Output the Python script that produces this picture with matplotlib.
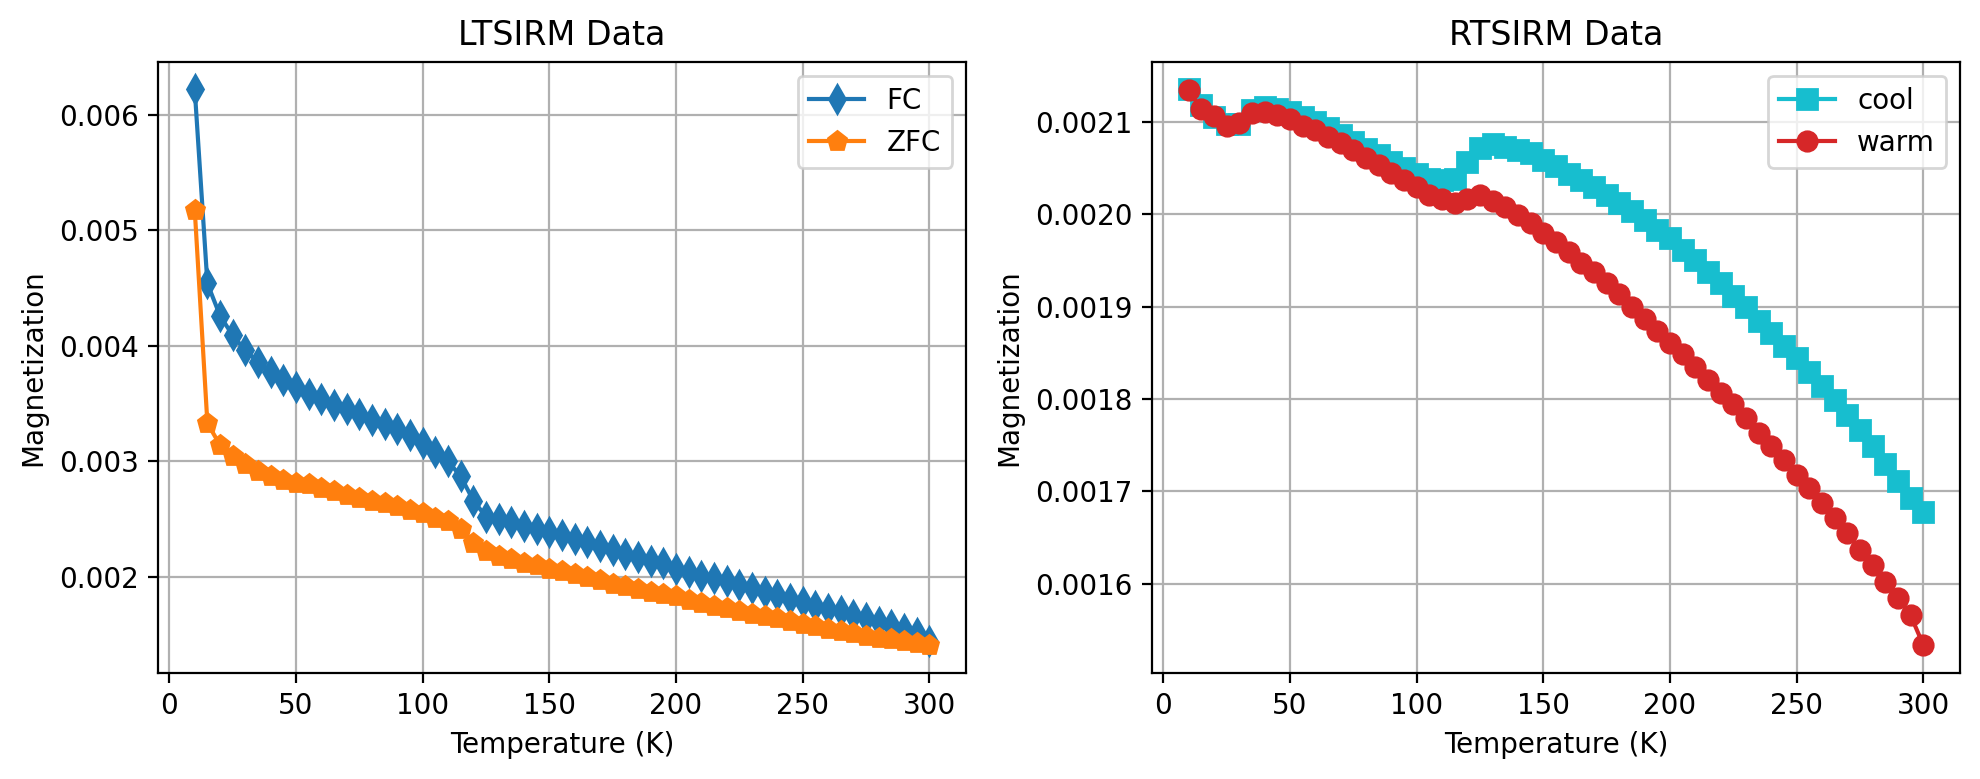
"""LTSIRM and RTSIRM magnetization plots"""

import matplotlib
matplotlib.use("Agg")
import matplotlib.pyplot as plt


temperature = [10, 15, 20, 25, 30, 35, 40, 45, 50, 55, 60, 65, 70, 75, 80,
               85, 90, 95, 100, 105, 110, 115, 120, 125, 130, 135, 140, 145,
               150, 155, 160, 165, 170, 175, 180, 185, 190, 195, 200, 205,
               210, 215, 220, 225, 230, 235, 240, 245, 250, 255, 260, 265,
               270, 275, 280, 285, 290, 295, 300]

fc = [0.00622, 0.00454, 0.00426, 0.00409, 0.00396, 0.00386, 0.00377, 0.00370,
      0.00364, 0.00358, 0.00354, 0.00349, 0.00345, 0.00341, 0.00336, 0.00332,
      0.00328, 0.00323, 0.00316, 0.00308, 0.00300, 0.00287, 0.00266, 0.00252,
      0.00250, 0.00247, 0.00244, 0.00241, 0.00239, 0.00236, 0.00233, 0.00230,
      0.00227, 0.00223, 0.00220, 0.00217, 0.00214, 0.00212, 0.00207, 0.00204,
      0.00201, 0.00199, 0.00196, 0.00193, 0.00190, 0.00187, 0.00184, 0.00181,
      0.00178, 0.00175, 0.00172, 0.00170, 0.00167, 0.00164, 0.00161, 0.00158,
      0.00155, 0.00151, 0.00144]

zfc = [0.00518, 0.00333, 0.00314, 0.00305, 0.00298, 0.00292, 0.00287, 0.00284,
       0.00281, 0.00280, 0.00277, 0.00274, 0.00271, 0.00268, 0.00266, 0.00264,
       0.00261, 0.00258, 0.00255, 0.00251, 0.00248, 0.00241, 0.00229, 0.00222,
       0.00218, 0.00215, 0.00212, 0.00210, 0.00207, 0.00205, 0.00202, 0.00200,
       0.00197, 0.00194, 0.00192, 0.00189, 0.00187, 0.00185, 0.00183, 0.00180,
       0.00177, 0.00175, 0.00173, 0.00170, 0.00168, 0.00166, 0.00164, 0.00162,
       0.00159, 0.00157, 0.00155, 0.00153, 0.00151, 0.00149, 0.00147, 0.00146,
       0.00144, 0.00143, 0.00141]

cool = [0.002135, 0.002118, 0.002105, 0.002098, 0.002098, 0.002113, 0.002116,
        0.002114, 0.002111, 0.002105, 0.002100, 0.002093, 0.002086, 0.002078,
        0.002071, 0.002064, 0.002057, 0.002050, 0.002043, 0.002038, 0.002037,
        0.002038, 0.002057, 0.002072, 0.002076, 0.002073, 0.002069, 0.002066,
        0.002059, 0.002052, 0.002044, 0.002037, 0.002030, 0.002021, 0.002012,
        0.002004, 0.001994, 0.001983, 0.001974, 0.001961, 0.001951, 0.001938,
        0.001926, 0.001912, 0.001900, 0.001884, 0.001872, 0.001857, 0.001844,
        0.001829, 0.001814, 0.001799, 0.001783, 0.001767, 0.001749, 0.001730,
        0.001711, 0.001693, 0.001678]

warm = [0.002134, 0.002114, 0.002106, 0.002096, 0.002099, 0.002110, 0.002111,
        0.002107, 0.002103, 0.002096, 0.002091, 0.002084, 0.002077, 0.002069,
        0.002061, 0.002053, 0.002045, 0.002037, 0.002029, 0.002021, 0.002017,
        0.002012, 0.002017, 0.002021, 0.002014, 0.002008, 0.001999, 0.001990,
        0.001980, 0.001970, 0.001959, 0.001947, 0.001937, 0.001926, 0.001914,
        0.001900, 0.001887, 0.001874, 0.001861, 0.001849, 0.001835, 0.001821,
        0.001807, 0.001795, 0.001779, 0.001763, 0.001749, 0.001734, 0.001718,
        0.001704, 0.001687, 0.001671, 0.001655, 0.001637, 0.001620, 0.001602,
        0.001585, 0.001566, 0.001534]


fig = plt.figure(figsize=(9.9, 3.895), dpi=200)
ax1 = fig.add_axes([0.0798, 0.1365, 0.4081, 0.7843])
ax2 = fig.add_axes([0.5817, 0.1365, 0.4082, 0.7843])

ax1.plot(temperature, fc, marker="d", markersize=7, color="tab:blue", label="FC")
ax1.plot(temperature, zfc, marker="p", markersize=7, color="tab:orange", label="ZFC")
ax1.set_title("LTSIRM Data")
ax1.set_xlabel("Temperature (K)")
ax1.set_ylabel("Magnetization")
ax1.legend()
ax1.grid(True)

ax2.plot(temperature, cool, marker="s", markersize=7, color="tab:cyan", label="cool")
ax2.plot(temperature, warm, marker="o", markersize=7, color="tab:red", label="warm")
ax2.set_title("RTSIRM Data")
ax2.set_xlabel("Temperature (K)")
ax2.set_ylabel("Magnetization")
ax2.legend()
ax2.grid(True)

fig.savefig("out.png", dpi=200)
